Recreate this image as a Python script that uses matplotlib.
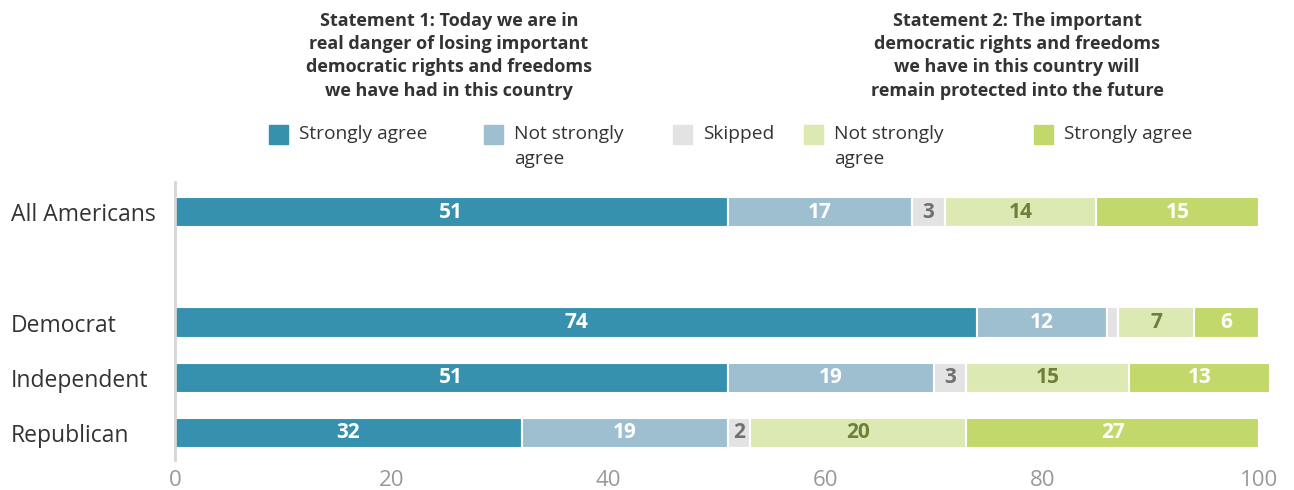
import numpy as np
import matplotlib
matplotlib.use("Agg")
import matplotlib.pyplot as plt
from matplotlib.patches import Rectangle

plt.rcParams['font.family'] = ['Open Sans', 'DejaVu Sans']

# Dados
grupos = ["All Americans", "", "Democrat", "Independent", "Republican"]
forte_1 = [51, 0, 74, 51, 32]       # Statement 1 - Strongly agree
fraco_1 = [17, 0, 12, 19, 19]       # Statement 1 - Not strongly agree
pulou = [3, 0, 1, 3, 2]             # Skipped
fraco_2 = [14, 0, 7, 15, 20]        # Statement 2 - Not strongly agree
forte_2 = [15, 0, 6, 13, 27]        # Statement 2 - Strongly agree
legendas = ["Strongly agree", "Not strongly\nagree", "Skipped", "Not strongly\nagree", "Strongly agree"]
ticks_x = [0, 20, 40, 60, 80, 100]

cores = ["#3691AE", "#9DBFD0", "#E3E3E3", "#DCE9B3", "#C3D86B"]
cores_texto = ["white", "white", "#707070", "#6E7F3A", "white"]

W, H = 1294, 490
fig = plt.figure(figsize=(W / 100, H / 100), dpi=100)
ax = fig.add_axes([175 / W, 1 - 460 / H, (1259 - 175) / W, (460 - 182) / H])

series = [forte_1, fraco_1, pulou, fraco_2, forte_2]
y = np.arange(len(grupos))
base = np.zeros(len(grupos))
for vals, cor, cor_txt in zip(series, cores, cores_texto):
    vals = np.array(vals, dtype=float)
    ax.barh(y, vals, left=base, height=0.55, color=cor,
            edgecolor="white", linewidth=1.5, clip_on=False)
    for i, v in enumerate(vals):
        if v >= 2:
            ax.text(base[i] + v / 2, y[i], f"{int(v)}", ha="center", va="center",
                    color=cor_txt, fontsize=15, fontweight="bold")
    base += vals

ax.set_xlim(0, 100)
ax.set_ylim(4.49, -0.545)
ax.set_yticks([0, 2, 3, 4])
ax.set_yticklabels([grupos[0], grupos[2], grupos[3], grupos[4]], fontsize=16.5,
                   color="#333333", ha="left")
ax.set_xticks(ticks_x)
ax.set_xticklabels([str(t) for t in ticks_x], fontsize=16, color="#999999")
ax.tick_params(length=0)
ax.tick_params(axis="y", pad=164 * 0.72)
ax.tick_params(axis="x", pad=7)
for s in ["top", "right", "bottom"]:
    ax.spines[s].set_visible(False)
ax.spines["left"].set_color("#D5D5D5")
ax.spines["left"].set_linewidth(2)

# Títulos
fig.text(449 / W, 1 - 12 / H,
         "Statement 1: Today we are in\nreal danger of losing important\ndemocratic rights and freedoms\nwe have had in this country",
         ha="center", va="top", fontsize=13, fontweight="bold", color="#333333", linespacing=1.37)
fig.text(1017 / W, 1 - 12 / H,
         "Statement 2: The important\ndemocratic rights and freedoms\nwe have in this country will\nremain protected into the future",
         ha="center", va="top", fontsize=13, fontweight="bold", color="#333333", linespacing=1.37)

# Legenda
quad_x = [269, 484, 673, 804, 1034]
for qx, cor, txt in zip(quad_x, cores, legendas):
    fig.add_artist(Rectangle((qx / W, 1 - 144 / H), 19 / W, 19 / H,
                             transform=fig.transFigure, color=cor))
    fig.text((qx + 30) / W, 1 - 125 / H, txt, ha="left", va="top",
             fontsize=13.8, color="#333333", linespacing=1.5)

fig.savefig("out.png", dpi=100)
